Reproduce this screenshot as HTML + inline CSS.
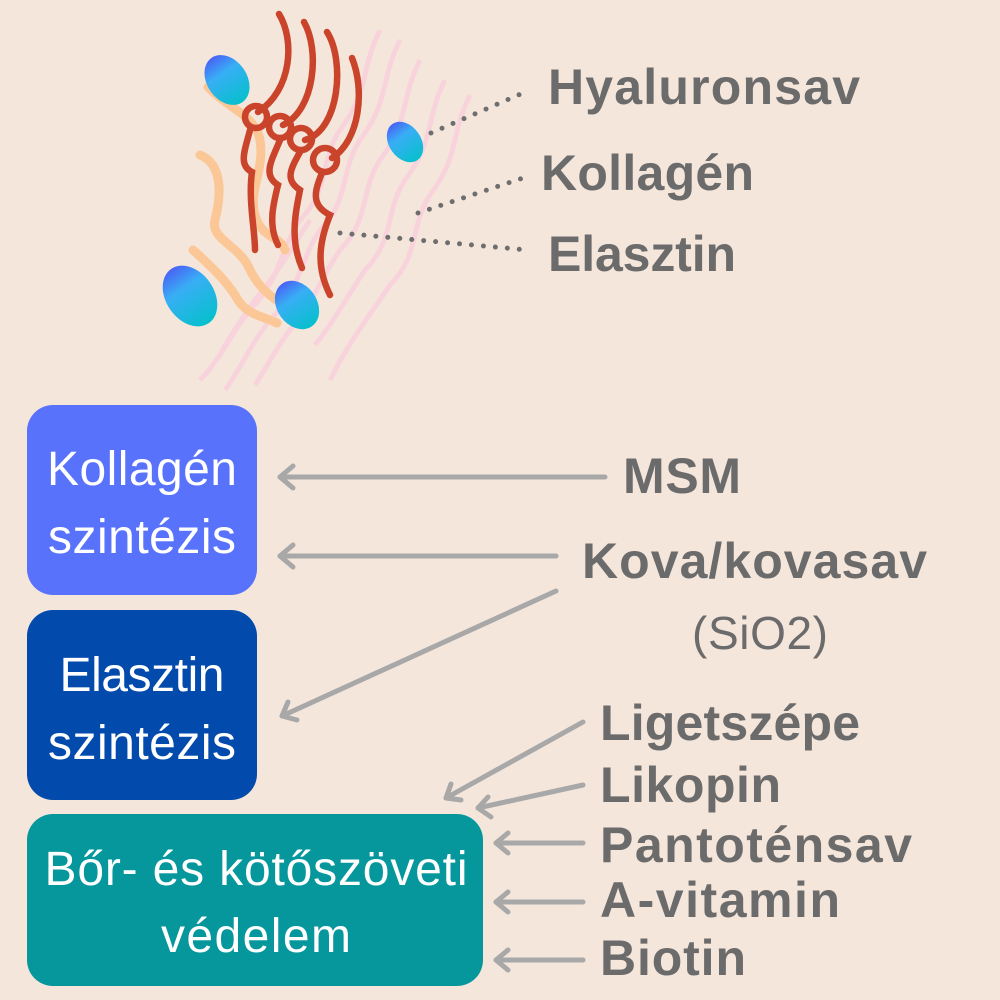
<!DOCTYPE html>
<html><head><meta charset="utf-8"><style>
html,body{margin:0;padding:0;background:#f5e6dc;}
svg{display:block}
.b{font-family:"Liberation Sans",sans-serif;font-weight:bold;fill:#6b6b6b;font-size:50px}
.w{font-family:"Liberation Sans",sans-serif;fill:#fff;font-size:48px}
</style></head><body>
<svg width="1000" height="1000" viewBox="0 0 1000 1000" xmlns="http://www.w3.org/2000/svg">
<defs>
<linearGradient id="g" x1="0" y1="0" x2="0" y2="1">
<stop offset="0" stop-color="#4a63f5"/><stop offset="0.35" stop-color="#38aef5"/><stop offset="1" stop-color="#06c0cc"/>
</linearGradient>
</defs>
<rect width="1000" height="1000" fill="#f5e6dc"/>
<!-- pink background strands -->
<g fill="none" stroke="#f9d3dd" stroke-width="5" opacity="0.95">
<path d="M380 30 C360 70 370 90 340 130 C320 160 330 190 300 220 C280 250 280 280 250 310 C230 335 220 360 200 380"/>
<path d="M400 40 C380 80 390 100 360 140 C340 170 350 200 320 230 C300 260 300 290 270 320 C250 345 240 370 225 390"/>
<path d="M420 60 C400 100 410 120 380 160 C360 190 370 220 340 250 C320 280 315 300 290 330 C275 350 265 370 255 385"/>
<path d="M445 80 C425 120 435 140 405 180 C385 210 395 240 365 270 C345 300 335 320 315 345"/>
<path d="M470 95 C450 135 460 155 430 195 C410 225 420 255 390 285 C370 315 350 340 330 380"/>
<path d="M310 220 C290 250 280 270 255 300 C240 320 235 330 222 350"/>
</g>
<!-- orange strands -->
<g fill="none" stroke="#fcc796" stroke-width="9" stroke-linecap="round">
<path d="M208 87 C230 110 255 115 260 140 C265 170 248 190 255 215 C262 240 280 235 285 250"/>
<path d="M200 155 C225 165 220 200 215 220 C210 240 240 245 250 270 C260 290 275 300 285 305"/>
<path d="M193 250 C215 270 225 280 235 295 C245 315 260 315 277 323"/>
</g>
<!-- red strands -->
<g fill="none" stroke="#c9442a" stroke-width="6.5" stroke-linecap="round">
<path d="M279 14 C295 40 292 90 258 112"/>
<path d="M304 22 C320 50 315 110 283 125"/>
<path d="M327 32 C345 60 340 130 305 140"/>
<path d="M352 58 C365 90 360 140 332 158"/>
<circle cx="256" cy="117" r="11"/><circle cx="280" cy="127" r="11"/><circle cx="301" cy="139" r="11"/><circle cx="325" cy="160" r="12"/>
<path d="M250 130 C245 150 238 165 252 172 C248 200 255 230 255 250"/>
<path d="M280 140 C272 160 262 175 278 185 C273 205 268 225 278 245"/>
<path d="M300 152 C290 170 285 180 300 190 C295 215 290 240 302 268"/>
<path d="M322 173 C315 190 310 205 330 215 C320 240 315 265 330 295"/>
</g>
<!-- blobs -->
<g fill="url(#g)">
<ellipse cx="227" cy="80" rx="20" ry="27" transform="rotate(-35 227 80)"/>
<ellipse cx="405" cy="142" rx="16" ry="22" transform="rotate(-35 405 142)"/>
<ellipse cx="190" cy="296" rx="24" ry="33" transform="rotate(-35 190 296)"/>
<ellipse cx="297" cy="305" rx="20" ry="26" transform="rotate(-35 297 305)"/>
</g>
<!-- dotted leaders -->
<g stroke="#6e6e6e" stroke-width="5" stroke-linecap="round" stroke-dasharray="0 12">
<line x1="431" y1="133" x2="523" y2="93"/>
<line x1="418" y1="213" x2="526" y2="177"/>
<line x1="340" y1="233" x2="528" y2="250"/>
</g>
<text class="b" x="548" y="104" textLength="312">Hyaluronsav</text>
<text class="b" x="541" y="190" textLength="213">Kollagén</text>
<text class="b" x="548" y="271" textLength="188">Elasztin</text>
<!-- boxes -->
<rect x="27" y="405" width="230" height="190" rx="26" fill="#5872fc"/>
<rect x="27" y="610" width="230" height="190" rx="26" fill="#034aad"/>
<rect x="27" y="814" width="456" height="172" rx="26" fill="#05979c"/>
<g class="w" text-anchor="middle">
<text x="142" y="485" textLength="190">Kollagén</text>
<text x="142" y="553" textLength="188">szintézis</text>
<text x="142" y="691" textLength="165">Elasztin</text>
<text x="142" y="759" textLength="188">szintézis</text>
<text x="256" y="885" textLength="423">Bőr- és kötőszöveti</text>
<text x="256" y="952" textLength="190">védelem</text>
</g>
<!-- arrows -->
<g stroke="#a8a8a8" stroke-width="5" fill="none" stroke-linecap="round" stroke-linejoin="round">
<line x1="605" y1="477" x2="280" y2="477"/><polyline points="293,466 280,477 293,488"/>
<line x1="556" y1="556" x2="280" y2="556"/><polyline points="293,545 280,556 293,567"/>
<line x1="556" y1="591" x2="282" y2="716"/><polyline points="288,702 282,716 297,720"/>
<line x1="583" y1="722" x2="446" y2="798"/><polyline points="451,784 446,798 461,800"/>
<line x1="583" y1="785" x2="478" y2="808"/><polyline points="488,797 478,808 491,817"/>
<line x1="583" y1="843" x2="496" y2="843"/><polyline points="508,833 496,843 508,853"/>
<line x1="583" y1="902" x2="496" y2="902"/><polyline points="508,892 496,902 508,912"/>
<line x1="583" y1="960" x2="496" y2="960"/><polyline points="508,950 496,960 508,970"/>
</g>
<text class="b" x="623" y="493" textLength="118">MSM</text>
<text class="b" x="582" y="578" textLength="345">Kova/kovasav</text>
<text x="692" y="649" font-family="Liberation Sans,sans-serif" font-size="46" fill="#6b6b6b" textLength="136">(SiO2)</text>
<text class="b" x="600" y="740" textLength="260">Ligetszépe</text>
<text class="b" x="600" y="802" textLength="181">Likopin</text>
<text class="b" x="600" y="862" textLength="312">Pantoténsav</text>
<text class="b" x="600" y="917" textLength="240">A-vitamin</text>
<text class="b" x="600" y="975" textLength="146">Biotin</text>
</svg>
</body></html>
